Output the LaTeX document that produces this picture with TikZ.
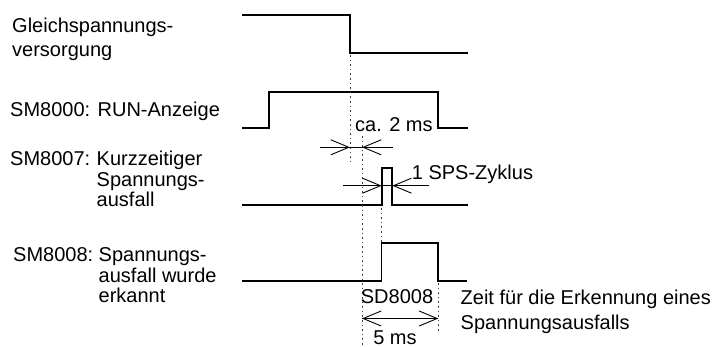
\documentclass[tikz,border=0pt]{standalone}
\usepackage{fontspec}
\setmainfont{Liberation Sans}
\usetikzlibrary{arrows.meta}
\tikzset{
  sig/.style={line width=1.8pt, line join=miter},
  guide/.style={line width=0.9pt, dash pattern=on 1.6pt off 3pt, draw=black!75},
  dimline/.style={line width=1.5pt},
  barb/.style={-{Straight Barb[length=18pt,width=15pt,line width=0.9pt]}, line width=0.9pt},
  lbl/.style={inner sep=0pt, anchor=base west, align=left, font=\fontsize{20}{20.5}\selectfont},
  lblc/.style={inner sep=0pt, anchor=base, font=\fontsize{20}{20.5}\selectfont},
}
\begin{document}
\begin{tikzpicture}[x=1pt,y=-1pt]
\useasboundingbox (0,0) rectangle (715,347);

% signals
\draw[sig] (242,15.3) -- (350,15.3) -- (350,53.3) -- (468,53.3);
\draw[sig] (242,128.3) -- (269.3,128.3) -- (269.3,91.7) -- (438.3,91.7) -- (438.3,128.3) -- (468,128.3);
\draw[sig] (242,205) -- (381.7,205) -- (381.7,168.3) -- (392.3,168.3) -- (392.3,205) -- (468,205);
\draw[sig] (242,281) -- (381.5,281) -- (381.5,242.7) -- (438.3,242.7) -- (438.3,281) -- (467,281);

% guide lines
\draw[guide] (350,55) -- (350,163);
\draw[guide] (362,136) -- (362,345);
\draw[guide] (381.6,208) -- (381.6,242);
\draw[guide] (438.3,283) -- (438.3,333);

% dimension: ca. 2 ms
\coordinate (d1l) at (320,147.3);
\coordinate (d1a) at (350,147.3);
\coordinate (d1b) at (362,147.3);
\coordinate (d1r) at (393,147.3);
\draw[dimline] (d1l) -- (d1r);
\draw[barb] (d1l) -- (d1a);
\draw[barb] (d1r) -- (d1b);

% dimension: 1 SPS-Zyklus
\coordinate (d2l) at (343,185.7);
\coordinate (d2a) at (381.7,185.7);
\coordinate (d2b) at (392.3,185.7);
\coordinate (d2r) at (429.3,185.7);
\draw[dimline] (d2l) -- (d2r);
\draw[barb] (d2l) -- (d2a);
\draw[barb] (d2r) -- (d2b);

% dimension: 5 ms
\coordinate (d3l) at (362,318.5);
\coordinate (d3r) at (438.3,318.5);
\coordinate (d3m) at (400,318.5);
\draw[dimline] (d3l) -- (d3r);
\draw[barb] (d3m) -- (d3l);
\draw[barb] (d3m) -- (d3r);

% labels (multi-line nodes: base = baseline of last line)
\node[lbl, font=\fontsize{20}{24.4}\selectfont] (tg) at (12,56.7) {Gleichspannungs-\\versorgung};
\node[lbl] (t0) at (10,116.7) {SM8000: RUN-Anzeige};
\node[lbl] (t7a) at (10,166) {SM8007:};
\node[lbl] (t7b) at (96.5,207) {Kurzzeitiger\\Spannungs-\\ausfall};
\node[lbl] (t8a) at (13,261.7) {SM8008:};
\node[lbl] (t8b) at (98.5,302.7) {Spannungs-\\ausfall wurde\\erkannt};

\node[lbl] (tca) at (355,131.7) {ca. 2 ms};
\node[lbl] (tsps) at (411.7,180) {1 SPS-Zyklus};
\node[lblc] (tsd) at (397,303.3) {SD8008};
\node[lbl, font=\fontsize{20}{25}\selectfont] (tzeit) at (460.5,330) {Zeit für die Erkennung eines\\Spannungsausfalls};
\node[lblc] (t5) at (395,344.5) {5 ms};
\end{tikzpicture}
\end{document}
